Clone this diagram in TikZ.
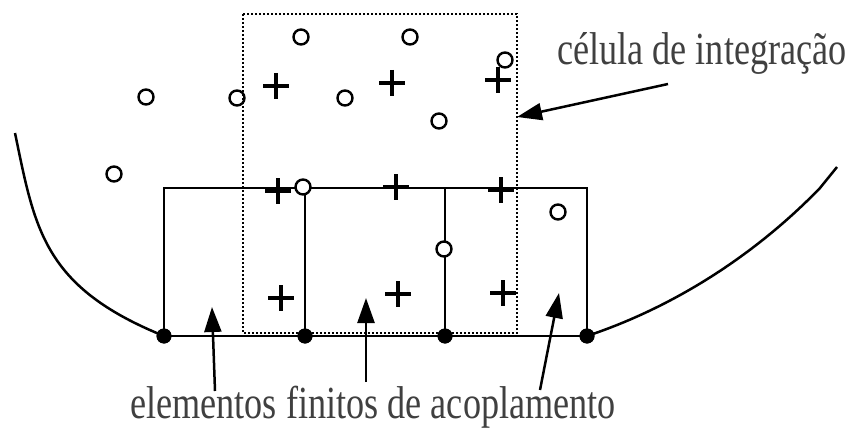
\documentclass[tikz,border=0pt]{standalone}
\usepackage{graphicx}
\usepackage{fontspec}
\setmainfont{Liberation Serif}
\usetikzlibrary{arrows.meta}
\begin{document}
\begin{tikzpicture}[x=1pt,y=-1pt,
  edge/.style={line width=2.5pt},
  cellbox/.style={line width=2.8pt, dash pattern=on 2.4pt off 1.6pt},
  nodedot/.style={circle, fill=black, inner sep=0pt, minimum size=15pt},
  point/.style={circle, draw, fill=white, line width=2.4pt, inner sep=0pt, minimum size=15pt},
  gauss/.style={line width=3.4pt},
  pointer/.style={line width=2.5pt, -{Triangle[length=25pt,width=17pt]}},
  caption/.style={text=black!75, font=\fontsize{46}{50}\selectfont, inner sep=0pt, anchor=base west}
]
\useasboundingbox (0,0) rectangle (849,428);

% boundary nodes of the coupling elements
\node[nodedot] (n1) at (164,336) {};
\node[nodedot] (n2) at (305,336) {};
\node[nodedot] (n3) at (445,336) {};
\node[nodedot] (n4) at (587,336) {};

% coupling finite elements
\draw[edge] (n1.center) -- (164,188) -- (587,188) -- (n4.center) -- cycle;
\draw[edge] (305,188) -- (n2.center);
\draw[edge] (445,188) -- (n3.center);

% boundary of the domain
\draw[edge] (15,133) .. controls (35,229) and (43,287) .. (n1.center);
\draw[edge] (n4.center) .. controls (680,305) and (760,250) .. (820,188) -- (837,167);

% meshless particles
\foreach \px/\py [count=\i] in {301/37, 410/37, 505/60, 146/97, 237/98, 345/98,
    439/121, 114/174, 303/187, 444/249, 558/212}
  \node[point] (p\i) at (\px,\py) {};

% integration cell
\draw[cellbox] (243,14) rectangle (517,333);

% integration points
\foreach \gx/\gy in {276/86, 392/83, 498/80, 278/191, 396/187, 501/190,
    281/298, 398/294, 503/293}
  \draw[gauss] (\gx-13,\gy) -- (\gx+13,\gy) (\gx,\gy-13) -- (\gx,\gy+13);

\node[nodedot] at (n1) {};
\node[nodedot] at (n2) {};
\node[nodedot] at (n3) {};
\node[nodedot] at (n4) {};

% labels
\node[caption] (cellLabel) at (557,65) {\scalebox{0.787}[1]{célula de integração}};
\node[caption] (femLabel) at (130,418) {\scalebox{0.787}[1]{elementos finitos de acoplamento}};

% pointers
\coordinate (cellTail) at (668,84);
\coordinate (cellHit) at (517,117);
\draw[pointer] (cellTail) -- (cellHit);

\coordinate (t1) at (215,391);
\coordinate (e1) at (212,307);
\coordinate (t2) at (366,382);
\coordinate (e2) at (366,298);
\coordinate (t3) at (540,390);
\coordinate (e3) at (559,293);
\draw[pointer] (t1) -- (e1);
\draw[pointer] (t2) -- (e2);
\draw[pointer] (t3) -- (e3);
\end{tikzpicture}
\end{document}
